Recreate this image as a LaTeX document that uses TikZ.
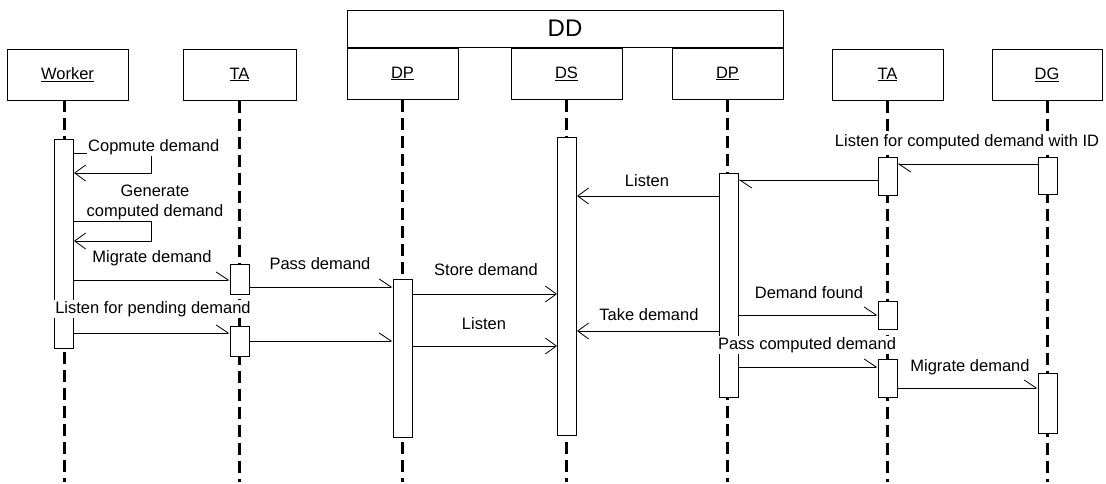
\documentclass[tikz,border=0pt]{standalone}
\usepackage{fontspec}
\setmainfont{Liberation Sans}
\usetikzlibrary{arrows.meta}
\begin{document}
\begin{tikzpicture}[x=1pt,y=-1pt,
  hdr/.style={draw, line width=1pt, minimum height=51pt, inner sep=0pt,
              font=\fontsize{16.5}{20}\selectfont},
  act/.style={draw, fill=white, line width=1pt, minimum width=19pt, inner sep=0pt},
  life/.style={line width=3pt, dash pattern=on 12pt off 6pt},
  msg/.style={line width=0.8pt},
  lbl/.style={fill=white, inner sep=1pt, align=center,
              font=\fontsize{16.5}{20}\selectfont},
  half/.style={msg, -{Straight Barb[harpoon, length=12pt, width=16pt]}},
  full/.style={msg, -{Straight Barb[length=11pt, width=16pt]}}]

\useasboundingbox (0,0) rectangle (1106,483);

% group box
\node[draw, line width=1pt, minimum width=436pt, minimum height=37pt, inner sep=0pt,
      font=\fontsize{24}{28}\selectfont] (DD) at (565,28.5) {DD};

% object heads
\node[hdr, minimum width=121pt] (hW)  at (67.5,74.5)  {\underline{Worker}};
\node[hdr, minimum width=113pt] (hT)  at (239.5,74.5) {\underline{TA}};
\node[hdr, minimum width=111pt] (hP1) at (402.5,73.5) {\underline{DP}};
\node[hdr, minimum width=111pt] (hS)  at (566.5,73.5) {\underline{DS}};
\node[hdr, minimum width=111pt] (hP2) at (727.5,73.5) {\underline{DP}};
\node[hdr, minimum width=111pt] (hT2) at (887.5,74.5) {\underline{TA}};
\node[hdr, minimum width=110pt] (hG)  at (1047,74.5)  {\underline{DG}};

% lifelines
\coordinate (tW) at (64,100);
\draw[life] (tW) -- (64,482);
\draw[life] (hT.south)  -- (hT.south  |- 0,482);
\draw[life] (hP1.south) -- (hP1.south |- 0,482);
\draw[life] (hS.south)  -- (hS.south  |- 0,482);
\draw[life] (hP2.south) -- (hP2.south |- 0,482);
\draw[life] (hT2.south) -- (hT2.south |- 0,482);
\draw[life] (hG.south)  -- (hG.south  |- 0,482);

% activations
\node[act, minimum height=209pt] (aW)  at (64,243.5)    {};
\node[act, minimum height=30pt]  (aT1) at (239.5,279)   {};
\node[act, minimum height=30pt]  (aT2) at (239.5,341)   {};
\node[act, minimum height=158pt] (aP1) at (402.5,358)   {};
\node[act, minimum height=298pt] (aS)  at (567,286)     {};
\node[act, minimum height=224pt] (aP2) at (728.5,285)   {};
\node[act, minimum height=38pt]  (aT3) at (887.5,176)   {};
\node[act, minimum height=28pt]  (aT4) at (887.5,315)   {};
\node[act, minimum height=38pt]  (aT5) at (887.5,378)   {};
\node[act, minimum height=37pt]  (aG1) at (1047.5,175.5) {};
\node[act, minimum height=60pt]  (aG2) at (1047.5,403)  {};

% self calls on the worker
\draw[full] (aW.east |- 0,153) -- (151,153) -- (151,173) -- (aW.east |- 0,173);
\draw[full] (aW.east |- 0,221) -- (151,221) -- (151,241) -- (aW.east |- 0,241);

% messages
\draw[half] (aW.east  |- 0,280) -- (aT1.west |- 0,280);
\draw[half] (aW.east  |- 0,333) -- (aT2.west |- 0,333);
\draw[half] (aT1.east |- 0,287) -- (aP1.west |- 0,287);
\draw[half] (aT2.east |- 0,341) -- (aP1.west |- 0,341);
\draw[full] (aP1.east |- 0,294) -- (aS.west  |- 0,294);
\draw[full] (aP1.east |- 0,346) -- (aS.west  |- 0,346);
\draw[full] (aP2.west |- 0,196) -- (aS.east  |- 0,196);
\draw[full] (aP2.west |- 0,331) -- (aS.east  |- 0,331);
\draw[half] (aG1.west |- 0,164) -- (aT3.east |- 0,164);
\draw[half] (aT3.west |- 0,180) -- (aP2.east |- 0,180);
\draw[half] (aP2.east |- 0,315) -- (aT4.west |- 0,315);
\draw[half] (aP2.east |- 0,367) -- (aT5.west |- 0,367);
\draw[half] (aT5.east |- 0,388) -- (aG2.west |- 0,388);

% message labels
\node[lbl, anchor=west] (l1) at (87,147) {Copmute demand};
\node[lbl] (l2)  at (155,202) {Generate\\computed demand};
\node[lbl] (l3)  at (152,258) {Migrate demand};
\node[lbl] (l4)  at (153,309) {Listen for pending demand};
\node[lbl] (l5)  at (320,264) {Pass demand};
\node[lbl] (l6)  at (486,270) {Store demand};
\node[lbl] (l7)  at (484,324) {Listen};
\node[lbl] (l8)  at (647,181) {Listen};
\node[lbl] (l9)  at (649,315) {Take demand};
\node[lbl] (l10) at (967,142) {Listen for computed demand with ID};
\node[lbl] (l11) at (809,293) {Demand found};
\node[lbl] (l12) at (807,345) {Pass computed demand};
\node[lbl] (l13) at (970,367) {Migrate demand};
\end{tikzpicture}
\end{document}
